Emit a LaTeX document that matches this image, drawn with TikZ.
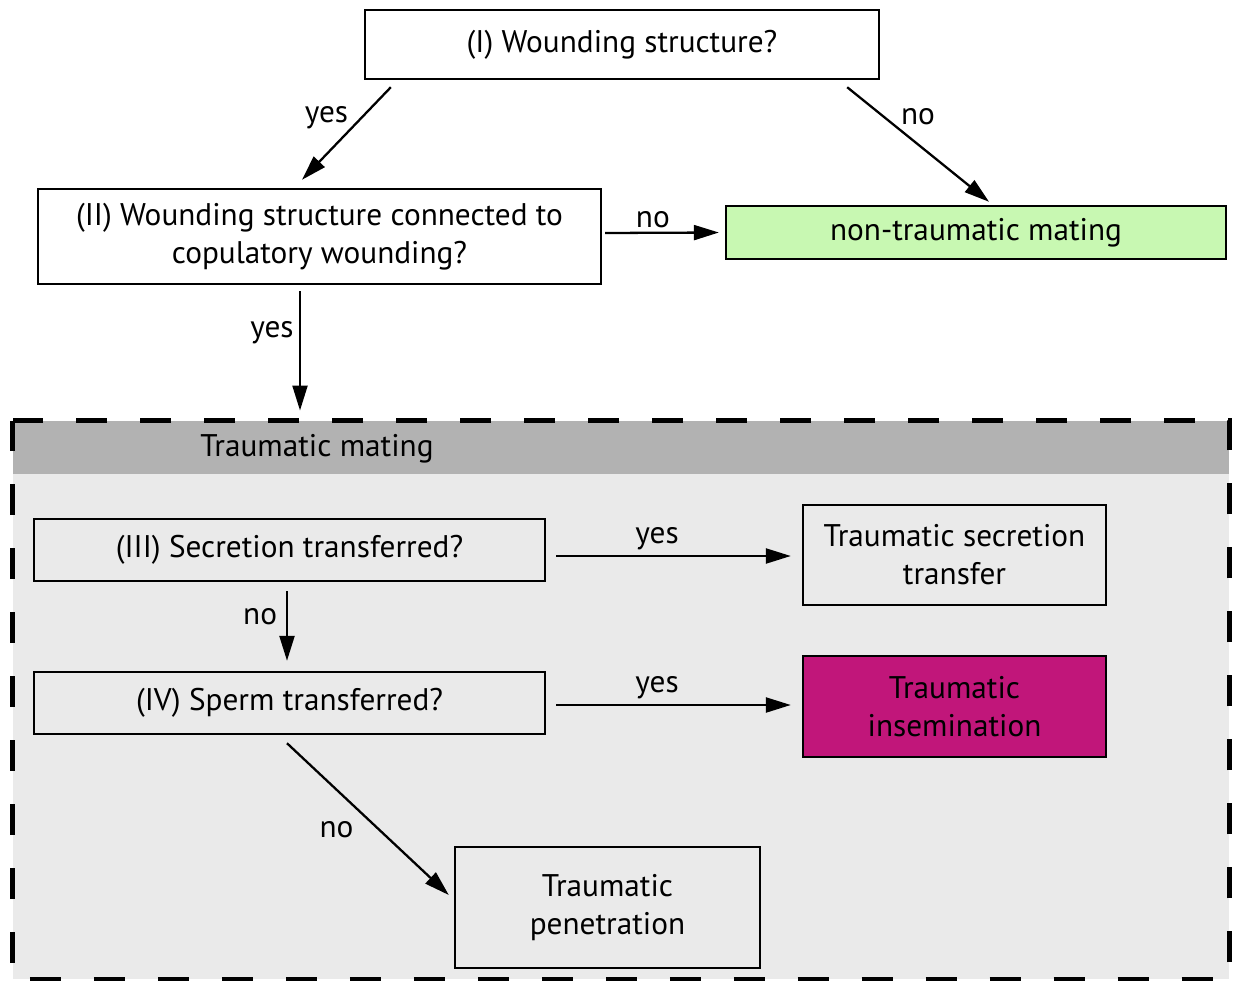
\documentclass[tikz,border=0pt]{standalone}
\usepackage{fontspec}
\setmainfont{PT Sans}
\usepackage{tikz}
\usetikzlibrary{positioning}
\usetikzlibrary{arrows.meta}
\usetikzlibrary{calc}
\definecolor{matingGreen}{RGB}{200,248,178}
\definecolor{inseminationPink}{RGB}{193,22,122}
\definecolor{headGray}{RGB}{178,178,178}
\definecolor{bodyGray}{RGB}{234,234,234}

\begin{document}
\begin{tikzpicture}[x=0.02cm, y=-0.02cm,
  myBox/.style={draw, line width=1.4pt, inner sep=0pt, align=center,
    font=\fontsize{17.8}{21.6}\selectfont},
  myArrow/.style={line width=1.3pt, -{Triangle[length=0.5cm, width=0.3cm]}},
  myLabel/.style={font=\fontsize{17.8}{21}\selectfont, inner sep=2pt}
]

\useasboundingbox (0,0) rectangle (1233,980);

% traumatic mating frame
\fill[bodyGray] (12.5,420.5) rectangle (1229,979);
\fill[headGray] (12.5,420.5) rectangle (1229,474);
\draw[line width=0.1cm, dash pattern=on 0.62cm off 0.66cm] (12.5,420.5) rectangle (1229,979);

\node[myLabel] (TMlabel) at (317,449) {Traumatic mating};
\coordinate (TMtop) at (300,420.5);

% questions
\node[myBox, minimum width=10.28cm, minimum height=1.38cm] (I) at (622,44.5)
{(I) Wounding structure?};
\node[myBox, minimum width=11.26cm, minimum height=1.9cm] (II) at (319.5,236.5)
{(II) Wounding structure connected to\\copulatory wounding?};
\node[myBox, minimum width=10.22cm, minimum height=1.24cm] (III) at (289.5,550)
{(III) Secretion transferred?};
\node[myBox, minimum width=10.22cm, minimum height=1.24cm] (IV) at (289.5,703)
{(IV) Sperm transferred?};

% outcomes
\node[myBox, fill=matingGreen, minimum width=10cm, minimum height=1.06cm] (green) at (976,232.5)
{non-traumatic mating};
\node[myBox, minimum width=6.06cm, minimum height=2cm] (TST) at (954.5,555)
{Traumatic secretion\\transfer};
\node[myBox, fill=inseminationPink, minimum width=6.06cm, minimum height=2.02cm] (TI) at (954.5,706.5)
{Traumatic\\insemination};
\node[myBox, minimum width=6.1cm, minimum height=2.42cm] (TP) at (607.5,907.5)
{Traumatic\\penetration};

% arrows
\draw[myArrow] ($(I.south west)+(27,7)$) -- node[myLabel, pos=0.33, left=5pt] {yes} ($(II.north)+(-17.5,-8)$);
\draw[myArrow] ($(I.south east)+(-33,7)$) -- node[myLabel, pos=0.26, right=7pt] {no} ($(green.north)+(13,-3)$);
\draw[myArrow] ($(II.east)+(3,-3.5)$) -- node[myLabel, pos=0.42, above] {no} ($(green.west)+(-6,0)$);
\draw[myArrow] ($(II.south)+(-19.5,6)$) -- node[myLabel, pos=0.35, left=1pt] {yes} ($(TMtop)+(0,-10)$);

\draw[myArrow] ($(III.east)+(10,6)$) -- node[myLabel, pos=0.43, above=1pt] {yes} ($(III.east -| TST.west)+(-11,6)$);
\draw[myArrow] ($(III.south)+(-2.5,9)$) -- node[myLabel, pos=0.37, left=3pt] {no} ($(IV.north)+(-2.5,-10)$);
\draw[myArrow] ($(IV.east)+(10,2)$) -- node[myLabel, pos=0.43, above=1pt] {yes} ($(IV.east -| TI.west)+(-11,2)$);
\draw[myArrow] ($(IV.south)+(-2.5,8)$) -- node[myLabel, pos=0.57, left=12pt] {no} ($(TP.west)+(-5,-12.5)$);

\end{tikzpicture}
\end{document}
